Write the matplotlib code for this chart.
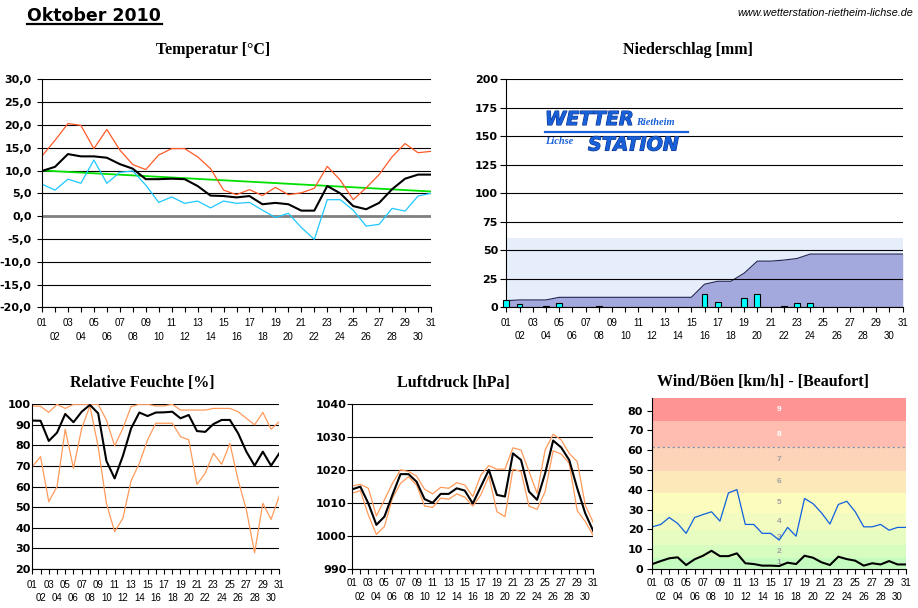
import matplotlib
matplotlib.use("Agg")
import matplotlib.pyplot as plt
import numpy as np
import matplotlib.patheffects as pe

# ---------------- data ----------------
days = np.arange(1, 32)
day_labels = ["01", "02", "03", "04", "05", "06", "07", "08", "09", "10",
              "11", "12", "13", "14", "15", "16", "17", "18", "19", "20",
              "21", "22", "23", "24", "25", "26", "27", "28", "29", "30", "31"]

temp_max = [13.2, 16.6, 20.3, 19.9, 14.8, 19.0, 14.5, 11.3, 10.2, 13.4,
            14.8, 14.8, 13.0, 10.4, 5.7, 4.7, 5.8, 4.5, 6.3, 4.7,
            5.1, 6.1, 10.9, 7.9, 3.6, 6.2, 9.1, 13.0, 15.9, 13.9, 14.2]
temp_mean = [9.9, 10.8, 13.6, 13.1, 13.1, 12.8, 11.4, 10.4, 8.1, 8.1,
             8.2, 8.1, 6.6, 4.5, 4.4, 4.1, 4.4, 2.6, 2.9, 2.6,
             1.2, 1.2, 6.6, 5.0, 2.2, 1.5, 2.9, 5.9, 8.2, 9.1, 9.1]
temp_min = [7.0, 5.7, 8.1, 7.2, 12.3, 7.2, 9.6, 9.9, 6.8, 3.0,
            4.2, 2.8, 3.3, 1.8, 3.3, 2.8, 3.0, 1.3, -0.3, 0.6,
            -2.5, -5.1, 3.6, 3.6, 1.3, -2.2, -1.8, 1.7, 1.1, 4.4, 5.0]
temp_trend = [10.0, 5.4]          # trend line value at day 01 and day 31
temp_ticks = [30, 25, 20, 15, 10, 5, 0, -5, -10, -15, -20]
temp_ticklabels = ["30,0", "25,0", "20,0", "15,0", "10,0", "5,0", "0,0",
                   "-5,0", "-10,0", "-15,0", "-20,0"]

rain_daily = [5.8, 2.4, 0, 0.6, 3.2, 0, 0, 0.6, 0, 0,
              0, 0, 0, 0, 0, 11.2, 4.1, 0, 7.9, 11.2,
              0, 0.6, 3.2, 3.2, 0, 0, 0, 0, 0, 0, 0]
rain_cum = [5.6, 6.2, 6.2, 6.2, 8.5, 8.5, 8.5, 8.5, 8.5, 8.5,
            8.5, 8.5, 8.5, 8.5, 8.5, 20.0, 22.6, 22.6, 29.7, 40.3,
            40.3, 41.2, 42.6, 46.5, 46.5, 46.5, 46.5, 46.5, 46.5, 46.5, 46.5]
rain_month_normal = 61
rain_ticks = [0, 25, 50, 75, 100, 125, 150, 175, 200]

hum_max = [99.2, 99.0, 96.1, 100, 98.0, 100, 100, 100, 100, 92.4,
           79.8, 88.3, 98.9, 100, 100, 99.2, 99.2, 100, 97.2, 97.2,
           97.2, 97.2, 98.0, 98.0, 98.0, 96.4, 93.2, 90.0, 96.1, 87.9, 91.6]
hum_mean = [92.1, 92.0, 82.2, 86.2, 95.3, 91.3, 96.4, 99.7, 95.6, 72.5,
            64.0, 74.9, 88.3, 96.0, 94.3, 96.0, 96.1, 96.4, 93.2, 94.8,
            87.0, 86.6, 90.4, 92.4, 92.4, 85.9, 77.0, 70.2, 77.0, 70.2, 76.2]
hum_min = [69.7, 74.6, 52.7, 60.0, 87.9, 68.9, 88.3, 99.2, 79.4, 51.9,
           38.1, 44.6, 62.9, 71.3, 82.7, 90.8, 90.8, 90.8, 84.3, 82.7,
           61.1, 66.5, 76.2, 70.9, 81.0, 63.2, 48.7, 27.9, 51.9, 44.1, 55.5]
hum_ticks = [20, 30, 40, 50, 60, 70, 80, 90, 100]

pres_max = [1015.2, 1015.7, 1014.5, 1006.1, 1011.0, 1016.0, 1020.1, 1019.6, 1018.2, 1014.2,
            1012.8, 1014.8, 1014.5, 1016.2, 1015.5, 1012.0, 1018.5, 1021.4, 1020.3, 1020.3,
            1026.8, 1026.1, 1019.6, 1013.0, 1026.1, 1030.9, 1029.2, 1025.1, 1022.6, 1009.4, 1004.1]
pres_mean = [1014.2, 1015.0, 1009.9, 1003.4, 1005.9, 1012.5, 1018.8, 1018.8, 1016.5, 1011.2,
             1010.1, 1012.8, 1012.8, 1014.5, 1013.8, 1009.9, 1015.0, 1020.1, 1012.5, 1012.0,
             1025.1, 1023.1, 1013.5, 1011.0, 1019.0, 1029.0, 1026.9, 1023.1, 1014.5, 1006.9, 1001.5]
pres_min = [1013.0, 1013.8, 1006.4, 1000.5, 1002.9, 1011.5, 1016.0, 1018.0, 1015.5, 1009.1,
            1008.7, 1011.5, 1011.2, 1012.8, 1011.8, 1009.1, 1012.5, 1018.2, 1007.4, 1005.9,
            1020.3, 1019.6, 1009.1, 1008.1, 1013.5, 1025.9, 1024.9, 1022.1, 1007.7, 1004.4, 1000.1]
pres_ticks = [990, 1000, 1010, 1020, 1030, 1040]

wind_gust = [21.3, 22.5, 26.0, 23.0, 18.0, 26.0, 27.5, 28.9, 24.2, 38.4,
             40.1, 22.5, 22.5, 18.0, 18.0, 14.6, 21.0, 16.6, 35.6, 33.0,
             28.4, 22.7, 32.6, 34.2, 28.9, 21.3, 21.3, 22.5, 19.6, 21.0, 21.0]
wind_mean = [2.5, 4.0, 5.4, 5.9, 2.0, 4.9, 6.7, 9.2, 6.5, 6.5,
             7.9, 2.9, 2.5, 1.7, 1.7, 1.5, 3.2, 2.5, 6.7, 5.7,
             3.4, 2.0, 6.2, 5.0, 4.2, 1.7, 2.9, 2.3, 4.0, 2.3, 2.3]
wind_ticks = [0, 10, 20, 30, 40, 50, 60, 70, 80]
beaufort_edges = [0, 1, 5.5, 12, 19.5, 28.5, 38.5, 49.5, 61.5, 74.5, 86.5]
beaufort_colors = ["#c4fcc4", "#c4fcc0", "#d6fcc0", "#e6fcc0", "#f2fcc0",
                   "#fcfcbc", "#fce8b8", "#fdd4b8", "#ffbcb0", "#ff9494"]
beaufort_labels = ["", "1", "2", "3", "4", "5", "6", "7", "8", "9"]
beaufort_label_colors = ["#a0a0a0"] * 8 + ["white", "white"]
storm_level = 61.5

# ---------------- figure ----------------
W, H = 918, 608
plt.rcParams['font.family'] = ['Liberation Sans', 'DejaVu Sans']
fig = plt.figure(figsize=(W / 100, H / 100), dpi=100)
fig.patch.set_facecolor('white')


def rect(l, t, r, b):
    return [l / W, 1 - b / H, (r - l) / W, (b - t) / H]


def fx(x):
    return x / W


def fy(y):
    return 1 - y / H


def style(ax, ylim, yticks, ylabels, ytick_len, ypad, pad1, pad2, grid=True):
    ax.set_xlim(1, 31)
    ax.set_ylim(*ylim)
    for s in ['top', 'right']:
        ax.spines[s].set_visible(False)
    for s in ['left', 'bottom']:
        ax.spines[s].set_color('black')
        ax.spines[s].set_linewidth(0.8)
    ax.set_xticks(days[::2])
    ax.set_xticklabels(day_labels[::2], fontsize=7, fontfamily='Liberation Sans')
    ax.set_xticks(days[1::2], minor=True)
    ax.set_xticklabels(day_labels[1::2], minor=True, fontsize=7,
                       fontfamily='Liberation Sans')
    ax.tick_params(axis='x', which='both', direction='out', length=3.6,
                   width=0.8, color='black')
    ax.tick_params(axis='x', which='major', pad=pad1)
    ax.tick_params(axis='x', which='minor', pad=pad2)
    ax.set_yticks(yticks)
    ax.set_yticklabels(ylabels, fontsize=8, fontweight='bold',
                       fontfamily='DejaVu Sans')
    ax.tick_params(axis='y', direction='out', length=ytick_len, width=0.8,
                   color='black', pad=ypad)
    if grid:
        ax.yaxis.grid(True, color='black', linewidth=0.8)
    else:
        ax.yaxis.grid(False)
    ax.xaxis.grid(False)
    ax.set_facecolor('none')


# ---- temperature ----
ax = fig.add_axes(rect(42, 79.3, 431, 307.3))
style(ax, (-20, 30), temp_ticks, temp_ticklabels, 3.8, 3.6, 4.0, 14.0)
ax.set_axisbelow(True)
ax.axhline(0, color='#808080', linewidth=2.0, zorder=1.8)
ax.plot([days[0], days[-1]], temp_trend, color='#00e000', linewidth=1.3, zorder=2)
ax.plot(days, temp_max, color='#ff5a28', linewidth=0.9, zorder=2.2)
ax.plot(days, temp_min, color='#1ec8ff', linewidth=0.9, zorder=2.2)
ax.plot(days, temp_mean, color='black', linewidth=1.5, zorder=2.4)

# ---- precipitation ----
ax = fig.add_axes(rect(506.3, 79.3, 902.7, 307))
style(ax, (0, 200), rain_ticks, [str(t) for t in rain_ticks], 4.0, 2.0, 4.0, 14.0)
ax.set_axisbelow(False)
ax.axhspan(0, rain_month_normal, color='#e6eefc', zorder=0.5, linewidth=0)
ax.fill_between(days, rain_cum, 0, color='#a3a9dd', linewidth=0, zorder=1)
ax.plot(days, rain_cum, color='#202050', linewidth=0.8, zorder=1.2)
rd = np.array(rain_daily)
mask = rd > 0
ax.bar(days[mask], rd[mask], width=0.45, color='#00ffff', edgecolor='black',
       linewidth=0.8, zorder=3, clip_on=False)

# logo
logo_blue = '#1860d8'
stroke = [pe.withStroke(linewidth=0.8, foreground='#0a2f8a')]
fig.text(fx(545), fy(125), "WETTER", fontsize=13.8, fontweight='bold',
         fontstyle='italic', fontfamily='DejaVu Sans', color=logo_blue,
         ha='left', va='baseline', path_effects=stroke)
fig.text(fx(636), fy(125), "Rietheim", fontsize=7.5, fontweight='bold',
         fontstyle='italic', fontfamily='Liberation Serif', color=logo_blue,
         ha='left', va='baseline')
fig.text(fx(545), fy(144), "Lichse", fontsize=7.5, fontweight='bold',
         fontstyle='italic', fontfamily='Liberation Serif', color=logo_blue,
         ha='left', va='baseline')
fig.text(fx(588), fy(150.5), "STATION", fontsize=13.8, fontweight='bold',
         fontstyle='italic', fontfamily='DejaVu Sans', color=logo_blue,
         ha='left', va='baseline', path_effects=stroke)
fig.add_artist(plt.Line2D([fx(545), fx(688)], [fy(131.5), fy(131.5)],
                          color=logo_blue, linewidth=1.6))

# ---- humidity ----
ax = fig.add_axes(rect(32.3, 404.3, 279.3, 569))
style(ax, (20, 100), hum_ticks, [str(t) for t in hum_ticks], 0.0, 1.0, 4.0, 13.5)
ax.set_axisbelow(True)
ax.plot(days, hum_max, color='#ff9a5a', linewidth=0.9)
ax.plot(days, hum_min, color='#ff9a5a', linewidth=0.9)
ax.plot(days, hum_mean, color='black', linewidth=1.5)

# ---- pressure ----
ax = fig.add_axes(rect(352.3, 404.3, 593.3, 569))
style(ax, (990, 1040), pres_ticks, [str(t) for t in pres_ticks], 3.4, 0.8, 3.0, 13.0)
ax.set_axisbelow(True)
ax.plot(days, pres_max, color='#ff9a5a', linewidth=0.9)
ax.plot(days, pres_min, color='#ff9a5a', linewidth=0.9)
ax.plot(days, pres_mean, color='black', linewidth=1.5)

# ---- wind ----
ax = fig.add_axes(rect(652.3, 397.7, 906, 569))
style(ax, (0, beaufort_edges[-1]), wind_ticks, [str(t) for t in wind_ticks],
      3.6, 3.0, 3.0, 13.0, grid=False)
ax.set_axisbelow(True)
for i in range(len(beaufort_colors)):
    ax.axhspan(beaufort_edges[i], beaufort_edges[i + 1], color=beaufort_colors[i],
               linewidth=0, zorder=0)
    if beaufort_labels[i]:
        ax.text(16, (beaufort_edges[i] + beaufort_edges[i + 1]) / 2,
                beaufort_labels[i], fontsize=6, fontweight='bold',
                color=beaufort_label_colors[i], ha='center', va='center', zorder=0.5)
ax.axhline(storm_level, color='#8a96a6', linewidth=0.9, linestyle=(0, (2, 2)),
           zorder=0.6)
ax.plot(days, wind_gust, color='#1060e0', linewidth=0.9)
ax.plot(days, wind_mean, color='black', linewidth=1.5)

# ---- titles ----
tkw = dict(fontsize=11.5, fontweight='bold', fontfamily='Liberation Serif',
           ha='center', va='center')
fig.text(fx(213), fy(50), "Temperatur [°C]", **tkw)
fig.text(fx(688), fy(50), "Niederschlag [mm]", **tkw)
fig.text(fx(142), fy(383), "Relative Feuchte [%]", **tkw)
fig.text(fx(453), fy(383), "Luftdruck [hPa]", **tkw)
fig.text(fx(763), fy(382), "Wind/Böen [km/h] - [Beaufort]", **tkw)

fig.text(fx(27), fy(20.7), "Oktober 2010", fontsize=12.5, fontweight='bold',
         fontfamily='DejaVu Sans', ha='left', va='baseline')
fig.add_artist(plt.Line2D([fx(27), fx(162)], [fy(24), fy(24)], color='black',
                          linewidth=1.6))
fig.text(fx(913), fy(15.5), "www.wetterstation-rietheim-lichse.de", fontsize=7.8,
         fontstyle='italic', fontfamily='Liberation Sans', ha='right', va='baseline')

fig.savefig("out.png", dpi=100, facecolor='white')
